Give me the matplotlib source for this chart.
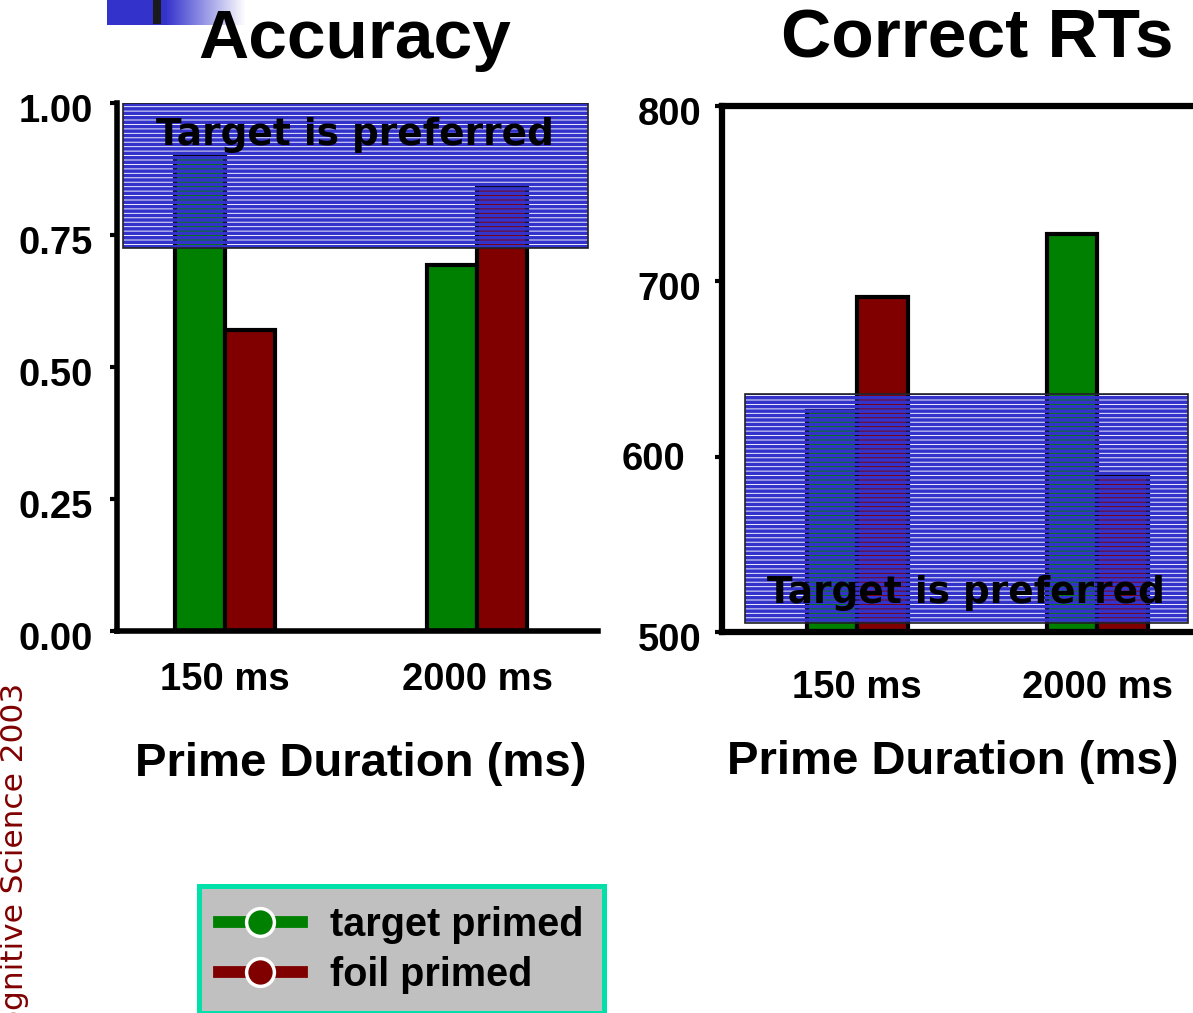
import matplotlib
matplotlib.use("Agg")
import matplotlib.pyplot as plt
import numpy as np
from matplotlib.patches import Rectangle
from matplotlib.lines import Line2D
from matplotlib.transforms import ScaledTranslation
from matplotlib.font_manager import FontProperties

# ---- data ----
durations = ["150 ms", "2000 ms"]
series_names = ["target primed", "foil primed"]
accuracy_target = [0.903, 0.693]
accuracy_foil = [0.571, 0.842]
rt_target = [626, 727]
rt_foil = [691, 590]
acc_ticks = [0.00, 0.25, 0.50, 0.75, 1.00]
acc_ticklabels = ["0.00", "0.25", "0.50", "0.75", "1.00"]
rt_ticks = [500, 600, 700, 800]
rt_ticklabels = ["500", "600", "700", "800"]

# shaded "Target is preferred" regions (x0, x1, y0, y1 in data units)
acc_pref_region = (-0.405, 1.44, 0.725, 1.0)
rt_pref_region = (-0.467, 1.379, 505, 635.5)

GREEN = "#008000"
RED = "#800000"
BLUE = "#3333CC"

W, H = 1193, 1013
DPI = 80
P = 100 / DPI  # sizes below are written for a 100-dpi canvas


def pt(v):
    return v * P


plt.rcParams["hatch.linewidth"] = 3.2
fig = plt.figure(figsize=(W / DPI, H / DPI), dpi=DPI)

BOLD = dict(family="Liberation Sans", weight="bold")


def px_axes(x0, y0, x1, y1, **kw):
    return fig.add_axes([x0 / W, 1 - y1 / H, (x1 - x0) / W, (y1 - y0) / H], **kw)


def draw_panel(ax, tvals, fvals, width, region, text_xy, ticks, ticklabels, ylim, xlim, spine_lw, pad):
    x = np.arange(len(durations))
    base = ylim[0]
    ax.bar(x - width / 2, np.array(tvals) - base, width, bottom=base, color=GREEN,
           edgecolor="black", linewidth=pt(3), zorder=2)
    ax.bar(x + width / 2, np.array(fvals) - base, width, bottom=base,
           color=RED, edgecolor="black", linewidth=pt(3), zorder=2)
    x0, x1, y0, y1 = region
    ax.add_patch(Rectangle((x0, y0), x1 - x0, y1 - y0, facecolor="none",
                           edgecolor=BLUE, hatch="---", linewidth=0, zorder=3))
    ax.add_patch(Rectangle((x0, y0), x1 - x0, y1 - y0, facecolor="none",
                           edgecolor="#222222", linewidth=pt(1.2), zorder=3.5))
    ax.text(text_xy[0], text_xy[1], "Target is preferred", ha="center", va="center",
            fontsize=pt(27), family="DejaVu Sans", weight="bold", zorder=4)
    ax.set_xlim(*xlim)
    ax.set_ylim(*ylim)
    ax.set_xticks(x)
    ax.set_xticklabels(durations)
    ax.set_yticks(ticks)
    ax.set_yticklabels(ticklabels)
    for lab in ax.get_xticklabels() + ax.get_yticklabels():
        lab.set_fontproperties(FontProperties(family="Liberation Sans", weight="bold", size=pt(27.5)))
    ax.tick_params(axis="x", length=0, pad=pt(pad[0]))
    ax.tick_params(axis="y", length=pt(5), width=pt(3), direction="out", pad=pt(pad[1]))
    off = ScaledTranslation(0, -5 / DPI, fig.dpi_scale_trans)
    for lab in ax.get_yticklabels():
        lab.set_transform(lab.get_transform() + off)
    for s in ax.spines.values():
        s.set_linewidth(pt(spine_lw))
    ax.patch.set_alpha(0)


# left panel: accuracy
ax1 = px_axes(117, 103, 598, 631)
draw_panel(ax1, accuracy_target, accuracy_foil, 0.2, acc_pref_region, (0.516, 0.94),
           acc_ticks, acc_ticklabels, (0, 1.0), (-0.4286, 1.48), 4, (22, 12.5))
ax1.spines["top"].set_visible(False)
ax1.spines["right"].set_visible(False)

# right panel: correct RTs
ax2 = px_axes(722, 106, 1215, 632)
draw_panel(ax2, rt_target, rt_foil, 0.21, rt_pref_region, (0.454, 522.5),
           rt_ticks, rt_ticklabels, (500, 800), (-0.5625, 1.49), 4.5, (27, 10))
sh = ScaledTranslation(-16 / DPI, 6 / DPI, fig.dpi_scale_trans)
lab600 = ax2.get_yticklabels()[1]
lab600.set_transform(lab600.get_transform() + sh)

# titles and axis labels
fig.text(355 / W, 1 - 40 / H, "Accuracy", ha="center", va="center", fontsize=pt(50), **BOLD)
fig.text(977 / W, 1 - 40 / H, "Correct RTs", ha="center", va="center", fontsize=pt(50), **BOLD)
fig.text(361 / W, 1 - 764 / H, "Prime Duration (ms)", ha="center", va="center", fontsize=pt(34), **BOLD)
fig.text(953 / W, 1 - 762 / H, "Prime Duration (ms)", ha="center", va="center", fontsize=pt(34), **BOLD)

# vertical footer text on the left edge
fig.text(15 / W, 1 - 683 / H, "Cognitive Science 2003", rotation=90, ha="center", va="top",
         fontsize=pt(22.5), family="DejaVu Sans", color="#800000")

# decorative gradient bar at top-left
deco = px_axes(107, 0, 250, 25)
grad = np.ones((1, 143, 3))
blue_rgb = np.array([0x33, 0x33, 0xCC]) / 255
for i in range(143):
    t = 0.0 if i < 58 else min(1.0, (i - 58) / 80)
    grad[0, i] = blue_rgb * (1 - t) + np.ones(3) * t
deco.imshow(grad, aspect="auto", extent=(0, 143, 0, 25))
deco.add_patch(Rectangle((46, 2), 7, 23, color="#1a1a1a"))
deco.set_xlim(0, 143)
deco.set_ylim(0, 25)
deco.axis("off")

# legend
handles = [Line2D([], [], color=c, lw=pt(8.5), marker="o", markersize=pt(20),
                  markerfacecolor=c, markeredgecolor="white", markeredgewidth=pt(2.5))
           for c in (GREEN, RED)]
leg = fig.legend(handles, series_names, loc="upper left",
                 bbox_to_anchor=(199 / W, 1 - 886 / H), frameon=True, fancybox=False,
                 prop=dict(family="Liberation Sans", weight="bold", size=pt(28.5)),
                 handlelength=2.1, handletextpad=0.72, labelspacing=0.3,
                 borderpad=0.5, borderaxespad=0, framealpha=1)
fr = leg.get_frame()
fr.set_facecolor("#C0C0C0")
fr.set_edgecolor("#00E0A8")
fr.set_linewidth(pt(3.6))

fig.savefig("out.png", dpi=DPI)
